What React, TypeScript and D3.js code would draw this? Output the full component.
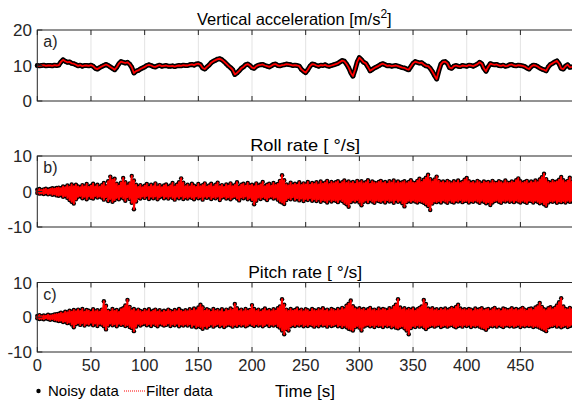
import React from "react";
import * as d3 from "d3";

const width = 572;
const height = 406;
const font = "'Liberation Sans', Arial, Helvetica, sans-serif";
const ink = "#262626";

// one sample (or one min/max pair) every 2 s, t = 0 .. 498
const timeStep = 2;
const xTicks = [0, 50, 100, 150, 200, 250, 300, 350, 400, 450];

const titles = ["Vertical acceleration [m/s", "Roll rate [ °/s]", "Pitch rate [ °/s]"];
const panelTags = ["a)", "b)", "c)"];
const yTicksA = [0, 10, 20];
const yTicksRate = [-10, 0, 10];

const accel = [
  10.0, 9.9, 10.0, 10.1, 9.9, 10.0, 10.0, 9.9, 10.1, 10.0,
  10.1, 11.0, 11.6, 11.2, 10.9, 11.0, 10.6, 10.5, 10.2, 9.9,
  10.1, 9.8, 10.0, 10.0, 9.9, 10.1, 9.8, 9.2, 9.0, 9.4,
  9.7, 10.0, 10.3, 10.0, 9.6, 9.2, 8.8, 9.5, 10.5, 11.1,
  10.9, 10.7, 10.9, 10.4, 9.5, 7.9, 8.4, 8.6, 9.0, 9.3,
  9.6, 10.0, 10.2, 10.0, 9.7, 9.6, 9.9, 10.1, 9.8, 9.9,
  10.0, 9.8, 9.8, 9.9, 9.7, 9.9, 10.0, 9.9, 10.1, 10.0,
  10.0, 10.2, 10.3, 10.1, 10.4, 10.5, 10.2, 9.3, 9.0, 9.6,
  10.1, 10.8, 11.2, 11.5, 11.8, 11.9, 11.6, 11.1, 10.5, 9.9,
  9.4, 8.8, 7.5, 7.9, 8.5, 9.2, 9.6, 10.2, 10.4, 10.0,
  9.4, 9.2, 9.8, 10.1, 10.2, 10.3, 10.0, 9.8, 9.6, 9.9,
  10.3, 10.4, 10.0, 9.9, 10.1, 10.2, 10.4, 10.3, 10.2, 10.0,
  10.1, 10.0, 9.8, 8.9, 8.4, 8.0, 8.8, 9.8, 10.4, 10.3,
  10.0, 9.8, 10.1, 10.0, 10.2, 9.9, 9.8, 10.0, 10.2, 10.4,
  10.6, 11.0, 11.4, 11.2, 10.4, 9.4, 8.0, 7.0, 8.8, 11.0,
  12.2, 11.6, 10.9, 10.6, 9.6, 8.5, 8.9, 9.3, 9.6, 9.9,
  10.3, 10.5, 10.2, 9.9, 10.0, 9.8, 9.9, 10.0, 9.8, 9.6,
  9.4, 9.3, 9.0, 8.8, 9.7, 10.6, 11.1, 10.9, 10.7, 10.8,
  10.3, 9.9, 9.8, 9.2, 8.3, 7.2, 6.2, 8.5, 10.4, 11.0,
  11.1, 10.6, 9.4, 9.2, 9.8, 10.0, 9.8, 9.7, 10.0, 9.9,
  9.8, 10.1, 10.0, 9.8, 10.1, 10.4, 10.9, 10.5, 9.2, 8.4,
  9.6, 10.5, 10.3, 10.2, 10.3, 10.0, 9.9, 10.1, 9.8, 9.9,
  10.2, 10.3, 10.0, 9.9, 10.1, 10.0, 9.9, 9.7, 9.3, 9.0,
  9.7, 10.1, 10.0, 9.7, 9.3, 9.0, 8.8, 8.5, 9.6, 10.3,
  10.6, 11.0, 11.3, 10.5, 9.2, 9.0, 9.8, 10.2, 9.5, 9.6,
];

// roll rate: max / min of the samples in each 2 s window
const rollHi = [
  0.5, 0.7, 0.4, 0.6, 0.8, 0.5, 0.7, 0.9, 0.8, 1.0,
  1.1, 0.9, 1.4, 1.2, 1.7, 1.3, 2.0, 1.5, 1.9, 1.4,
  1.2, 1.8, 1.4, 2.1, 1.3, 1.6, 2.2, 1.4, 1.9, 1.3,
  1.8, 2.4, 1.5, 2.9, 4.2, 3.3, 3.6, 2.2, 1.6, 2.5,
  3.8, 2.6, 1.7, 2.3, 4.4, 3.1, 1.9, 1.3, 1.8, 1.2,
  1.6, 2.1, 1.3, 1.9, 1.5, 2.3, 1.4, 1.8, 1.2, 1.7,
  2.0, 1.3, 1.7, 2.4, 1.4, 1.9, 2.6, 3.7, 2.5, 1.5,
  1.9, 1.4, 2.2, 1.6, 1.3, 2.1, 1.5, 1.8, 2.3, 1.4,
  1.7, 2.2, 1.4, 1.9, 2.5, 1.5, 1.8, 1.3, 2.0, 1.6,
  2.3, 1.5, 1.8, 2.6, 1.4, 1.9, 2.2, 1.6, 2.4, 1.7,
  1.9, 1.5, 2.3, 1.6, 2.0, 2.7, 1.5, 1.9, 2.2, 1.6,
  2.4, 1.8, 2.1, 3.0, 4.6, 3.2, 2.0, 1.7, 2.5, 1.8,
  2.2, 1.9, 2.6, 1.8, 2.3, 2.0, 2.7, 1.9, 2.4, 2.1,
  2.6, 2.0, 2.8, 2.2, 2.5, 3.0, 2.1, 2.7, 2.3, 2.6,
  2.9, 2.2, 2.6, 3.1, 2.4, 2.8, 2.3, 2.7, 2.2, 3.0,
  2.5, 2.9, 2.3, 2.6, 3.2, 2.2, 2.8, 2.5, 2.3, 2.7,
  3.0, 2.4, 2.7, 2.2, 2.9, 2.5, 3.1, 2.3, 2.8, 2.4,
  2.6, 2.9, 2.3, 2.7, 3.2, 2.5, 2.4, 3.0, 3.6, 2.7,
  3.3, 3.9, 4.7, 3.5, 2.8, 3.4, 4.2, 3.0, 2.5, 2.8,
  2.4, 3.0, 2.6, 2.3, 2.9, 2.5, 3.1, 2.4, 2.7, 3.3,
  3.8, 2.9, 2.4, 2.7, 2.3, 3.0, 2.6, 2.2, 2.8, 2.5,
  2.7, 2.3, 3.0, 2.5, 2.4, 2.9, 2.6, 2.3, 3.1, 2.5,
  2.4, 2.8, 2.5, 3.2, 3.7, 2.9, 2.4, 2.7, 3.0, 2.3,
  2.8, 2.5, 3.1, 2.6, 3.4, 4.0, 5.0, 3.5, 2.7, 2.4,
  3.0, 2.6, 2.8, 3.3, 4.1, 3.2, 2.6, 3.0, 3.9, 2.8,
];

const rollLo = [
  -0.4, -0.6, -0.5, -0.7, -0.5, -0.8, -0.6, -0.9, -0.8, -1.1,
  -1.2, -1.0, -1.5, -1.3, -1.8, -2.4, -2.9, -3.4, -2.2, -1.5,
  -1.3, -1.9, -1.5, -2.2, -1.4, -1.8, -2.0, -1.3, -1.7, -1.4,
  -1.7, -2.3, -1.6, -2.7, -2.1, -2.9, -2.4, -1.8, -2.2, -1.5,
  -1.9, -2.6, -1.6, -2.1, -3.2, -5.0, -2.8, -1.7, -2.0, -1.4,
  -1.8, -1.3, -2.1, -1.5, -1.9, -1.4, -2.2, -1.6, -1.3, -1.9,
  -1.5, -2.0, -1.4, -1.8, -2.3, -1.5, -1.9, -1.4, -2.1, -1.6,
  -2.0, -1.5, -1.8, -2.2, -1.4, -1.9, -1.6, -2.3, -1.5, -1.8,
  -1.4, -2.1, -1.6, -1.9, -1.5, -2.4, -1.7, -1.5, -2.0, -1.6,
  -2.2, -1.7, -1.5, -2.0, -2.5, -1.6, -1.9, -1.4, -2.2, -1.8,
  -2.4, -3.6, -2.6, -1.7, -2.1, -1.6, -1.9, -2.4, -1.7, -1.5,
  -2.0, -1.7, -2.3, -2.8, -3.1, -3.5, -2.4, -1.8, -2.2, -1.6,
  -2.3, -1.9, -2.5, -2.0, -2.7, -2.1, -2.4, -1.9, -2.6, -2.2,
  -2.7, -2.2, -2.9, -2.4, -2.6, -3.1, -2.3, -2.8, -2.4, -2.6,
  -3.0, -2.3, -2.7, -3.2, -3.6, -4.3, -3.0, -2.5, -2.8, -2.4,
  -3.1, -3.9, -2.9, -2.5, -3.0, -2.4, -2.8, -3.2, -2.5, -2.7,
  -2.9, -2.5, -3.1, -2.4, -2.8, -2.6, -3.2, -2.4, -2.9, -2.6,
  -3.3, -4.2, -3.0, -2.6, -2.9, -2.5, -2.8, -3.1, -2.7, -2.9,
  -3.2, -3.6, -4.1, -5.2, -3.4, -2.8, -3.0, -2.7, -3.1, -2.5,
  -2.8, -3.2, -2.5, -2.9, -3.1, -2.6, -2.8, -2.4, -3.0, -2.7,
  -2.6, -3.1, -2.7, -2.9, -2.5, -2.8, -3.2, -2.6, -2.9, -3.3,
  -3.0, -3.8, -3.1, -2.7, -2.5, -2.9, -3.2, -2.6, -2.8, -2.5,
  -2.9, -2.6, -3.0, -2.5, -2.8, -3.1, -2.6, -2.9, -3.2, -2.6,
  -2.7, -3.1, -2.6, -2.9, -3.3, -3.0, -3.6, -4.0, -3.1, -2.7,
  -2.9, -2.6, -3.2, -2.8, -3.0, -2.7, -3.1, -2.6, -2.9, -2.8,
];

// pitch rate: max / min of the samples in each 2 s window
const pitchHi = [
  0.4, 0.6, 0.3, 0.5, 0.4, 0.7, 0.5, 0.6, 0.8, 0.9,
  1.0, 1.3, 1.1, 1.6, 1.4, 1.9, 1.6, 2.1, 1.7, 2.2,
  1.8, 2.4, 1.6, 2.1, 1.9, 1.5, 2.3, 1.7, 2.0, 1.6,
  2.2, 4.6, 3.3, 1.9, 1.6, 2.4, 1.8, 2.1, 1.5, 2.3,
  2.6, 3.4, 5.0, 3.0, 2.0, 2.4, 1.7, 2.2, 1.8, 1.5,
  2.1, 1.7, 2.3, 1.5, 1.9, 2.2, 1.6, 2.0, 1.4, 1.9,
  1.6, 2.2, 1.8, 1.5, 2.1, 1.7, 2.4, 1.9, 1.6, 2.0,
  1.7, 2.3, 1.9, 2.5, 2.0, 2.8, 3.6, 2.9, 1.9, 2.3,
  2.0, 1.6, 2.4, 1.8, 2.1, 1.7, 2.3, 1.5, 2.2, 1.9,
  2.5, 2.1, 3.8, 2.6, 1.8, 2.2, 1.7, 2.4, 1.9, 2.1,
  3.5, 2.4, 1.8, 2.2, 1.6, 2.0, 2.5, 1.8, 2.1, 1.7,
  2.3, 1.9, 2.6, 3.1, 5.2, 3.6, 2.2, 1.8, 2.4, 1.9,
  2.1, 2.5, 1.8, 2.2, 1.7, 2.3, 2.0, 1.6, 2.4, 2.0,
  1.8, 2.3, 2.0, 2.6, 1.9, 2.2, 1.7, 2.4, 2.1, 1.8,
  2.4, 2.0, 2.7, 2.3, 3.3, 3.9, 4.8, 3.2, 2.5, 2.2,
  2.6, 2.1, 2.4, 1.9, 2.3, 2.7, 2.0, 2.2, 1.8, 2.5,
  2.0, 2.4, 2.2, 1.9, 2.6, 2.2, 3.0, 3.6, 5.2, 2.8,
  2.2, 2.6, 2.0, 2.4, 2.1, 2.5, 1.9, 2.3, 2.7, 3.1,
  5.0, 3.8, 2.5, 2.2, 2.6, 2.0, 2.3, 1.9, 2.4, 2.1,
  2.5, 2.0, 2.3, 2.7, 2.4, 3.0, 3.6, 2.5, 2.1, 2.3,
  2.0, 2.4, 2.2, 1.8, 2.5, 2.1, 2.3, 2.6, 2.0, 2.2,
  2.4, 1.9, 2.3, 2.7, 2.0, 2.2, 1.8, 2.5, 2.3, 2.0,
  2.2, 2.6, 2.1, 2.4, 2.0, 2.3, 2.7, 2.2, 1.9, 2.4,
  2.5, 2.1, 2.8, 3.2, 4.1, 3.0, 2.3, 2.0, 2.6, 2.9,
  2.3, 2.7, 3.4, 4.3, 5.5, 3.1, 2.4, 2.2, 2.7, 2.3,
];

const pitchLo = [
  -0.3, -0.5, -0.4, -0.6, -0.3, -0.5, -0.7, -0.5, -0.8, -0.9,
  -1.1, -1.0, -1.4, -1.2, -1.7, -1.5, -2.1, -2.9, -2.0, -1.7,
  -2.2, -1.7, -2.4, -1.9, -2.1, -1.6, -2.3, -1.8, -2.5, -1.9,
  -2.1, -2.6, -3.5, -2.4, -1.8, -2.3, -2.0, -2.6, -1.9, -2.2,
  -2.0, -2.5, -2.2, -2.8, -3.1, -4.0, -2.7, -1.9, -2.4, -2.0,
  -1.8, -2.3, -2.0, -2.5, -1.9, -2.2, -2.6, -1.9, -2.1, -2.4,
  -2.2, -1.8, -2.5, -2.0, -2.3, -1.9, -2.6, -2.1, -2.4, -2.0,
  -2.4, -2.0, -2.7, -2.2, -2.9, -2.5, -2.8, -3.3, -2.6, -3.0,
  -2.5, -2.1, -2.7, -2.3, -2.0, -2.6, -2.2, -2.8, -2.4, -2.1,
  -2.3, -2.7, -2.2, -2.5, -2.0, -2.4, -2.1, -2.6, -2.3, -1.9,
  -2.2, -2.5, -2.0, -2.4, -2.1, -2.6, -2.2, -1.9, -2.5, -2.1,
  -2.4, -2.0, -2.6, -3.0, -3.8, -4.9, -3.4, -3.8, -2.6, -2.2,
  -2.5, -2.1, -2.4, -2.0, -2.6, -2.2, -2.5, -2.1, -2.3, -2.7,
  -2.2, -2.6, -2.0, -2.4, -2.2, -2.7, -2.1, -2.5, -2.3, -2.0,
  -2.6, -2.3, -2.8, -2.4, -2.9, -3.3, -3.5, -3.8, -2.9, -2.5,
  -3.0, -3.8, -2.7, -2.4, -2.2, -2.6, -2.3, -2.8, -2.2, -2.5,
  -2.4, -2.8, -2.2, -2.6, -2.3, -2.9, -2.5, -3.0, -3.2, -2.8,
  -2.6, -3.2, -3.8, -4.9, -3.1, -2.5, -2.8, -2.3, -2.7, -2.4,
  -2.9, -3.4, -2.8, -2.5, -2.3, -2.7, -2.4, -2.2, -2.8, -2.5,
  -2.3, -2.7, -2.4, -2.2, -2.6, -2.9, -2.5, -2.3, -2.7, -2.2,
  -2.5, -2.2, -2.8, -2.4, -2.6, -2.3, -2.7, -3.0, -3.2, -3.6,
  -2.9, -2.4, -2.6, -2.3, -2.7, -2.2, -2.5, -2.8, -2.4, -2.3,
  -2.6, -2.3, -2.7, -2.5, -2.2, -2.8, -2.4, -2.6, -2.3, -2.5,
  -2.4, -2.8, -2.5, -2.7, -3.0, -3.3, -3.6, -4.0, -2.9, -2.6,
  -2.5, -2.2, -2.7, -2.4, -2.9, -2.6, -2.3, -2.8, -2.5, -2.4,
];

const panels = [
  { hi: accel, lo: null, domain: [0, 20], ticks: yTicksA, top: 30, bottom: 101, title: titles[0], tag: panelTags[0], titleW: 0 },
  { hi: rollHi, lo: rollLo, domain: [-10, 10], ticks: yTicksRate, top: 156, bottom: 227, title: titles[1], tag: panelTags[1], titleW: 110 },
  { hi: pitchHi, lo: pitchLo, domain: [-10, 10], ticks: yTicksRate, top: 282.5, bottom: 352, title: titles[2], tag: panelTags[2], titleW: 114 },
];

const x = d3.scaleLinear().domain([0, 499]).range([37.3, 573]);

const Panel = ({ p, idx }) => {
  const y = d3.scaleLinear().domain(p.domain).range([p.bottom, p.top]);
  const line = d3.line().x((d) => x(d[0])).y((d) => y(d[1]));
  const left = x.range()[0];
  const right = x.range()[1];
  const cx = (left + right) / 2;

  // noisy samples shown as dots; filtered trace drawn through them
  let dots = [];
  let trace = [];
  if (p.lo) {
    p.hi.forEach((v, i) => {
      const t = i * timeStep;
      dots.push([t, v], [t, p.lo[i]]);
      trace.push([t, v], [t, p.lo[i]]);
    });
  } else {
    dots = p.hi.map((v, i) => [i * timeStep, v]);
    trace = dots;
  }

  return (
    <g>
      {xTicks.slice(1).map((t) => (
        <line key={t} x1={x(t)} x2={x(t)} y1={p.top} y2={p.bottom} stroke="#e3e3e3" strokeWidth={1} />
      ))}
      {!p.lo && (
        <path d={line(dots)} fill="none" stroke="#000" strokeWidth={5} strokeLinejoin="round" strokeLinecap="round" />
      )}
      {dots.map((d, i) => (
        <circle key={i} cx={x(d[0])} cy={y(d[1])} r={p.lo ? 2.2 : 2.2} fill="#000" />
      ))}
      <path d={line(trace)} fill="none" stroke="#ff0000" strokeWidth={p.lo ? 2 : 1.8} strokeLinejoin="round" />
      <rect x={left} y={p.top} width={right - left} height={p.bottom - p.top} fill="none" stroke={ink} strokeWidth={1} />
      {xTicks.map((t) => (
        <g key={t}>
          <line x1={x(t)} x2={x(t)} y1={p.bottom} y2={p.bottom - 5} stroke={ink} />
          <line x1={x(t)} x2={x(t)} y1={p.top} y2={p.top + 5} stroke={ink} />
        </g>
      ))}
      {p.ticks.map((t) => (
        <g key={t}>
          <line x1={left} x2={left + 5} y1={y(t)} y2={y(t)} stroke={ink} />
          <text x={32} y={y(t)} dy="0.36em" textAnchor="end" fontSize={17} fill={ink}>
            {t}
          </text>
        </g>
      ))}
      <text x={left + 6} y={p.top + 17} fontSize={16} fill={ink}>
        {p.tag}
      </text>
      {idx === 0 ? (
        <text x={197} y={p.top - 5} fontSize={16.5} fill="#000">
          {p.title}
          <tspan dy={-7} fontSize={12}>2</tspan>
          <tspan dy={7}>]</tspan>
        </text>
      ) : (
        <text
          x={cx}
          y={p.top - 5}
          textAnchor="middle"
          fontSize={17}
          fill="#000"
          textLength={p.titleW}
          lengthAdjust="spacingAndGlyphs"
        >
          {p.title}
        </text>
      )}
    </g>
  );
};

export default function App() {
  const last = panels[2];
  return (
    <svg
      width={width}
      height={height}
      style={{ position: "absolute", left: 0, top: 0, background: "#fff" }}
      fontFamily={font}
    >
      {panels.map((p, i) => (
        <Panel key={i} p={p} idx={i} />
      ))}
      {xTicks.map((t) => (
        <text key={t} x={x(t)} y={last.bottom + 19} textAnchor="middle" fontSize={16.5} fill={ink}>
          {t}
        </text>
      ))}
      <text x={305} y={397} textAnchor="middle" fontSize={17} fill="#000">
        Time [s]
      </text>
      {/* legend */}
      <circle cx={38.5} cy={391} r={2.2} fill="#000" />
      <text x={48} y={396} fontSize={15} fill="#000">
        Noisy data
      </text>
      <line x1={124} x2={145} y1={391} y2={391} stroke="#ff0000" strokeWidth={1} strokeDasharray="1,1" />
      <text x={146} y={396} fontSize={15} fill="#000">
        Filter data
      </text>
    </svg>
  );
}
